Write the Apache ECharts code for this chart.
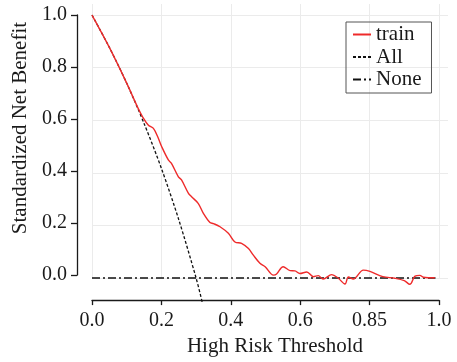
<!DOCTYPE html>
<html>
<head>
<meta charset="utf-8">
<script src="https://cdn.jsdelivr.net/npm/echarts@6/dist/echarts.min.js"></script>
<style>
  html, body { margin: 0; padding: 0; background: #fff; }
</style>
</head>
<body>
<div id="main" style="width: 457px; height: 362px"></div>
<script>
// x tick labels as printed in the figure (note the odd "0.85")
const xTickLabels = ['0.0', '0.2', '0.4', '0.6', '0.85', '1.0'];

// train curve
const trainX = [0, 0.05, 0.1, 0.133, 0.145, 0.162, 0.177, 0.19, 0.201, 0.22, 0.229, 0.249, 0.258, 0.278, 0.287,
  0.306, 0.321, 0.34, 0.35, 0.369, 0.393, 0.412, 0.431, 0.451, 0.465, 0.484, 0.499, 0.523, 0.532, 0.551,
  0.571, 0.585, 0.599, 0.619, 0.638, 0.652, 0.666, 0.691, 0.71, 0.729, 0.739, 0.753, 0.782, 0.801, 0.838,
  0.873, 0.9, 0.916, 0.931, 0.945, 0.955, 0.988];
const trainY = [1.0, 0.877, 0.741, 0.645, 0.615, 0.582, 0.569, 0.535, 0.499, 0.449, 0.436, 0.385, 0.373, 0.322, 0.309,
  0.284, 0.246, 0.211, 0.207, 0.195, 0.170, 0.137, 0.132, 0.112, 0.087, 0.056, 0.043, 0.011, 0.015, 0.043,
  0.028, 0.027, 0.017, 0.023, 0.005, 0.009, -0.004, 0.013, -0.001, -0.023, 0.004, -0.004, 0.030, 0.025, 0.005,
  -0.001, -0.010, -0.024, 0.007, 0.010, 0.003, 0.001];

// treat-all curve
const allX = [0, 0.05, 0.1, 0.15, 0.2, 0.25, 0.3, 0.318];
const allY = [1.0, 0.877, 0.741, 0.588, 0.417, 0.222, 0.0, -0.094];

// treat-none line
const noneX = [0, 0.99];
const noneY = [0, 0];

const pairs = (xs, ys) => xs.map((x, i) => [x, ys[i]]);

const FONT = '"Liberation Serif", "Times New Roman", serif';
const INK = '#1a1a1a';

const myChart = echarts.init(document.getElementById('main'));
myChart.setOption({
  animation: false,
  backgroundColor: '#fff',
  textStyle: { fontFamily: FONT },
  legend: {
    orient: 'vertical',
    left: 346,
    top: 22,
    padding: [2, 10, 3, 6],
    itemGap: 1.5,
    itemWidth: 18,
    itemHeight: 12,
    borderColor: '#555',
    borderWidth: 1,
    itemStyle: { opacity: 0, borderWidth: 0 },
    textStyle: { fontFamily: FONT, fontSize: 21, color: INK },
    data: ['train', 'All', 'None']
  },
  grid: [
    // panel with the grid lines and the data
    { left: 92, right: 9, top: 4, bottom: 84 },
    // offset axes drawn only over 0..1
    { left: 92, right: 18, top: 15, bottom: 84 }
  ],
  xAxis: [
    {
      gridIndex: 0, type: 'value', min: 0, max: 1.026, interval: 0.2,
      axisLine: { show: false }, axisTick: { show: false }, axisLabel: { show: false },
      splitLine: { show: true, showMaxLine: false, lineStyle: { color: '#ebebeb', width: 1 } }
    },
    {
      gridIndex: 1, type: 'value', min: 0, max: 1, interval: 0.2, offset: 25,
      axisLine: { show: true, onZero: false, lineStyle: { color: INK, width: 1.3 } },
      axisTick: { show: true, length: 5, lineStyle: { color: INK, width: 1.3 } },
      axisLabel: {
        margin: 11, fontSize: 20, color: INK, fontFamily: FONT,
        formatter: v => xTickLabels[Math.round(v / 0.2)]
      },
      splitLine: { show: false },
      name: 'High Risk Threshold',
      nameLocation: 'middle',
      nameGap: 34,
      nameTextStyle: { fontSize: 21, color: INK, fontFamily: FONT, padding: [0, 0, 0, 19] }
    }
  ],
  yAxis: [
    {
      gridIndex: 0, type: 'value', min: 0, max: 1.042, interval: 0.2,
      axisLine: { show: false }, axisTick: { show: false }, axisLabel: { show: false },
      splitLine: { show: true, showMaxLine: false, lineStyle: { color: '#ebebeb', width: 1 } }
    },
    {
      gridIndex: 1, type: 'value', min: 0, max: 1, interval: 0.2, offset: 15,
      axisLine: { show: true, onZero: false, lineStyle: { color: INK, width: 1.3 } },
      axisTick: { show: true, length: 6, lineStyle: { color: INK, width: 1.3 } },
      axisLabel: { margin: 10, fontSize: 20, color: INK, fontFamily: FONT, formatter: v => v.toFixed(1) },
      splitLine: { show: false },
      name: 'Standardized Net Benefit',
      nameLocation: 'middle',
      nameGap: 44,
      nameTextStyle: { fontSize: 21, color: INK, fontFamily: FONT, padding: [0, 0, 0, 34] }
    }
  ],
  series: [
    {
      name: 'None',
      type: 'line',
      xAxisIndex: 0, yAxisIndex: 0,
      data: pairs(noneX, noneY),
      symbol: 'none',
      clip: false,
      itemStyle: { color: '#111' },
      lineStyle: { color: '#111', width: 1.3, type: [8, 3, 2, 3] },
      z: 2
    },
    {
      name: 'All',
      type: 'line',
      xAxisIndex: 0, yAxisIndex: 0,
      data: pairs(allX, allY),
      symbol: 'none',
      smooth: 0.3,
      clip: false,
      itemStyle: { color: '#111' },
      lineStyle: { color: '#111', width: 1.3, type: [3, 2] },
      z: 3
    },
    {
      name: 'train',
      type: 'line',
      xAxisIndex: 0, yAxisIndex: 0,
      data: pairs(trainX, trainY),
      symbol: 'none',
      smooth: 0.35,
      clip: false,
      itemStyle: { color: '#ee2a2a' },
      lineStyle: { color: '#ee2a2a', width: 1.4 },
      z: 4
    }
  ]
});
</script>
</body>
</html>
